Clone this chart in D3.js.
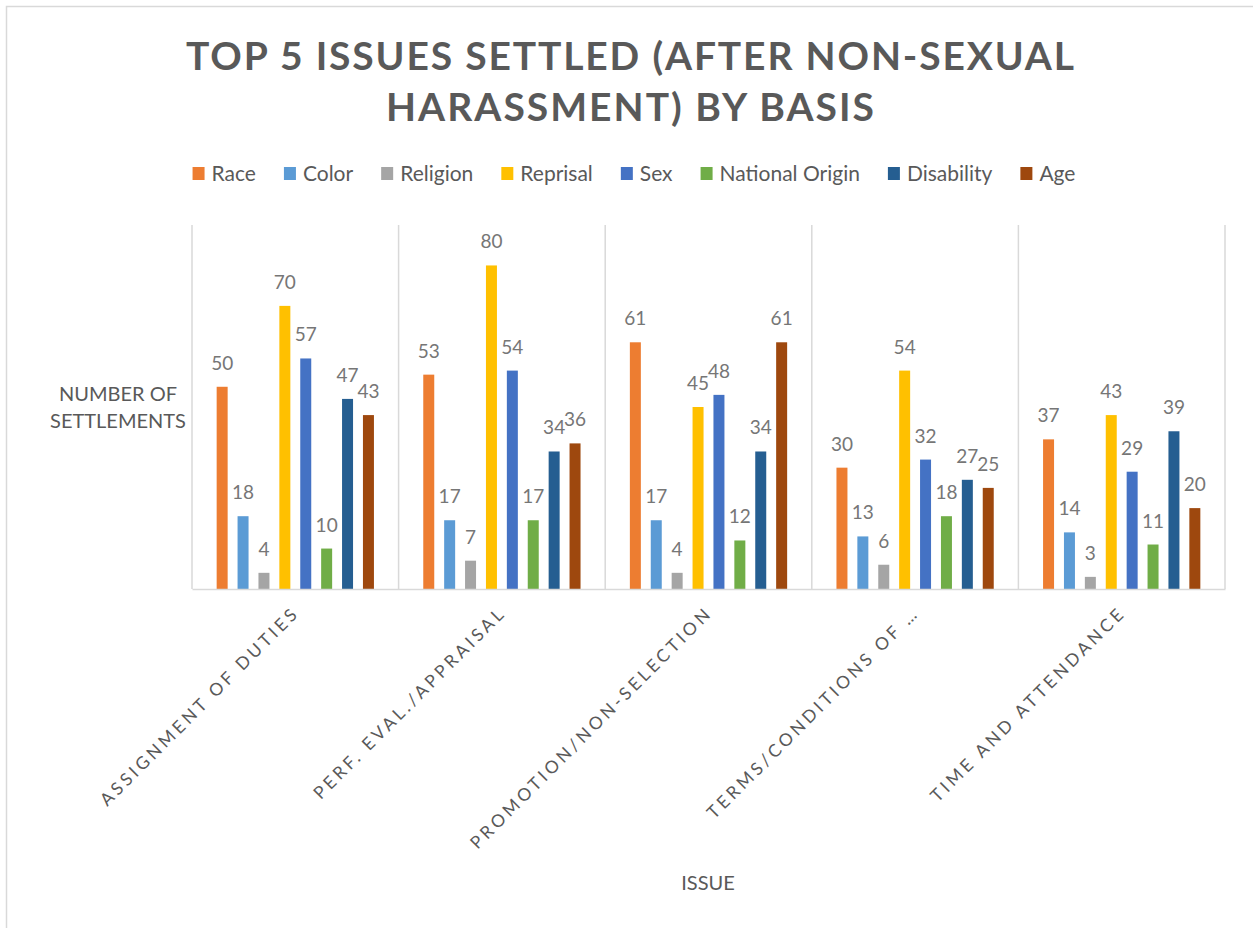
<!DOCTYPE html>
<html>
<head>
<meta charset="utf-8">
<script src="https://cdn.jsdelivr.net/npm/d3@7/dist/d3.min.js"></script>
<style>
  html, body { margin: 0; padding: 0; background: #fff; }
  svg { display: block; }
  text { font-family: Lato, "Open Sans", sans-serif; }
</style>
</head>
<body>
<svg id="chart" width="1253" height="928"></svg>
<script>
// ---- data ----
const issues = ["ASSIGNMENT OF DUTIES", "PERF. EVAL./APPRAISAL", "PROMOTION/NON-SELECTION", "TERMS/CONDITIONS OF …", "TIME AND ATTENDANCE"];
const bases = ["Race", "Color", "Religion", "Reprisal", "Sex", "National Origin", "Disability", "Age"];
const race          = [50, 53, 61, 30, 37];
const color         = [18, 17, 17, 13, 14];
const religion      = [4, 7, 4, 6, 3];
const reprisal      = [70, 80, 45, 54, 43];
const sex           = [57, 54, 48, 32, 29];
const nationalOrigin= [10, 17, 12, 18, 11];
const disability    = [47, 34, 34, 27, 39];
const age           = [43, 36, 61, 25, 20];
const seriesValues = [race, color, religion, reprisal, sex, nationalOrigin, disability, age];
const palette = ["#ED7D31", "#5B9BD5", "#A5A5A5", "#FFC000", "#4472C4", "#70AD47", "#255E91", "#9E480E"];
const titleLines = ["TOP 5 ISSUES SETTLED (AFTER NON-SEXUAL", "HARASSMENT) BY BASIS"];
const yTitleLines = ["NUMBER OF", "SETTLEMENTS"];
const xTitle = "ISSUE";

// ---- layout ----
const svg = d3.select("#chart");
const plot = { left: 192, right: 1225, top: 225, bottom: 589 };
const textColor = "#595959";
const labelColor = "#767676";
const gridColor = "#D9D9D9";

// chart border (top/left visible)
svg.append("rect").attr("x", 6.5).attr("y", 6.5).attr("width", 1260).attr("height", 940)
  .attr("fill", "none").attr("stroke", gridColor).attr("stroke-width", 1.5);

const x0 = d3.scaleBand().domain(issues).range([plot.left, plot.right]).paddingInner(0).paddingOuter(0);
const x1 = d3.scaleBand().domain(bases).range([0, x0.bandwidth()]).paddingInner(0.474).paddingOuter(1.18);
const y = d3.scaleLinear().domain([0, 90]).range([plot.bottom, plot.top]);

// category separators
const seps = issues.map(d => x0(d)).concat([x0(issues[issues.length - 1]) + x0.bandwidth()]);
svg.append("g").selectAll("line").data(seps).join("line")
  .attr("x1", d => d).attr("x2", d => d)
  .attr("y1", plot.top).attr("y2", plot.bottom)
  .attr("stroke", gridColor).attr("stroke-width", 1.5);

// bars
const groups = svg.append("g").selectAll("g").data(issues).join("g")
  .attr("transform", d => `translate(${x0(d)},0)`);
groups.each(function(issue, i) {
  const g = d3.select(this);
  const vals = bases.map((b, j) => ({ b, v: seriesValues[j][i], c: palette[j] }));
  g.selectAll("rect").data(vals).join("rect")
    .attr("x", d => x1(d.b)).attr("width", x1.bandwidth())
    .attr("y", d => y(d.v)).attr("height", d => y(0) - y(d.v))
    .attr("fill", d => d.c);
  g.selectAll("text").data(vals).join("text")
    .attr("x", d => x1(d.b) + x1.bandwidth() / 2)
    .attr("y", d => y(d.v) - 17)
    .attr("text-anchor", "middle")
    .attr("font-size", 19)
    .attr("fill", labelColor)
    .text(d => d.v);
});

// x axis baseline
const xAxis = d3.axisBottom(x0).tickSize(0).tickFormat("");
const xg = svg.append("g").attr("transform", `translate(0,${plot.bottom})`).call(xAxis);
xg.select(".domain").attr("stroke", gridColor).attr("stroke-width", 1.5);

// rotated category labels
svg.append("g").selectAll("text").data(issues).join("text")
  .attr("transform", d => `translate(${x0(d) + x0.bandwidth() / 2 + 5},${plot.bottom + 25}) rotate(-45)`)
  .attr("text-anchor", "end")
  .attr("font-size", 17.5)
  .attr("letter-spacing", 3.4)
  .attr("fill", textColor)
  .text(d => d);

// title
svg.append("g").selectAll("text").data(titleLines).join("text")
  .attr("x", 630).attr("y", (d, i) => 70 + i * 51)
  .attr("text-anchor", "middle")
  .attr("font-size", 39).attr("font-weight", "bold")
  .attr("fill", textColor)
  .attr("textLength", (d, i) => i === 0 ? 888 : 488)
  .attr("lengthAdjust", "spacing")
  .text(d => d);

// legend
const legend = svg.append("g");
const items = legend.selectAll("g").data(bases).join("g");
items.append("rect").attr("width", 12).attr("height", 13).attr("y", -14)
  .attr("fill", (d, i) => palette[i]);
items.append("text").attr("x", 19).attr("y", 0).attr("font-size", 21)
  .attr("fill", textColor).text(d => d);
let cx = 0;
const pos = [];
items.each(function() {
  pos.push(cx);
  const w = d3.select(this).select("text").node().getComputedTextLength();
  cx += 19 + w + 28;
});
const totalW = cx - 28;
items.attr("transform", (d, i) => `translate(${pos[i]},0)`);
legend.attr("transform", `translate(${634 - totalW / 2},181)`);

// y axis title
svg.append("g").selectAll("text").data(yTitleLines).join("text")
  .attr("x", 118).attr("y", (d, i) => 401 + i * 27)
  .attr("text-anchor", "middle").attr("font-size", 20)
  .attr("fill", textColor).text(d => d);

// x axis title
svg.append("text").attr("x", 708).attr("y", 890)
  .attr("text-anchor", "middle").attr("font-size", 20)
  .attr("fill", textColor).text(xTitle);
</script>
</body>
</html>
